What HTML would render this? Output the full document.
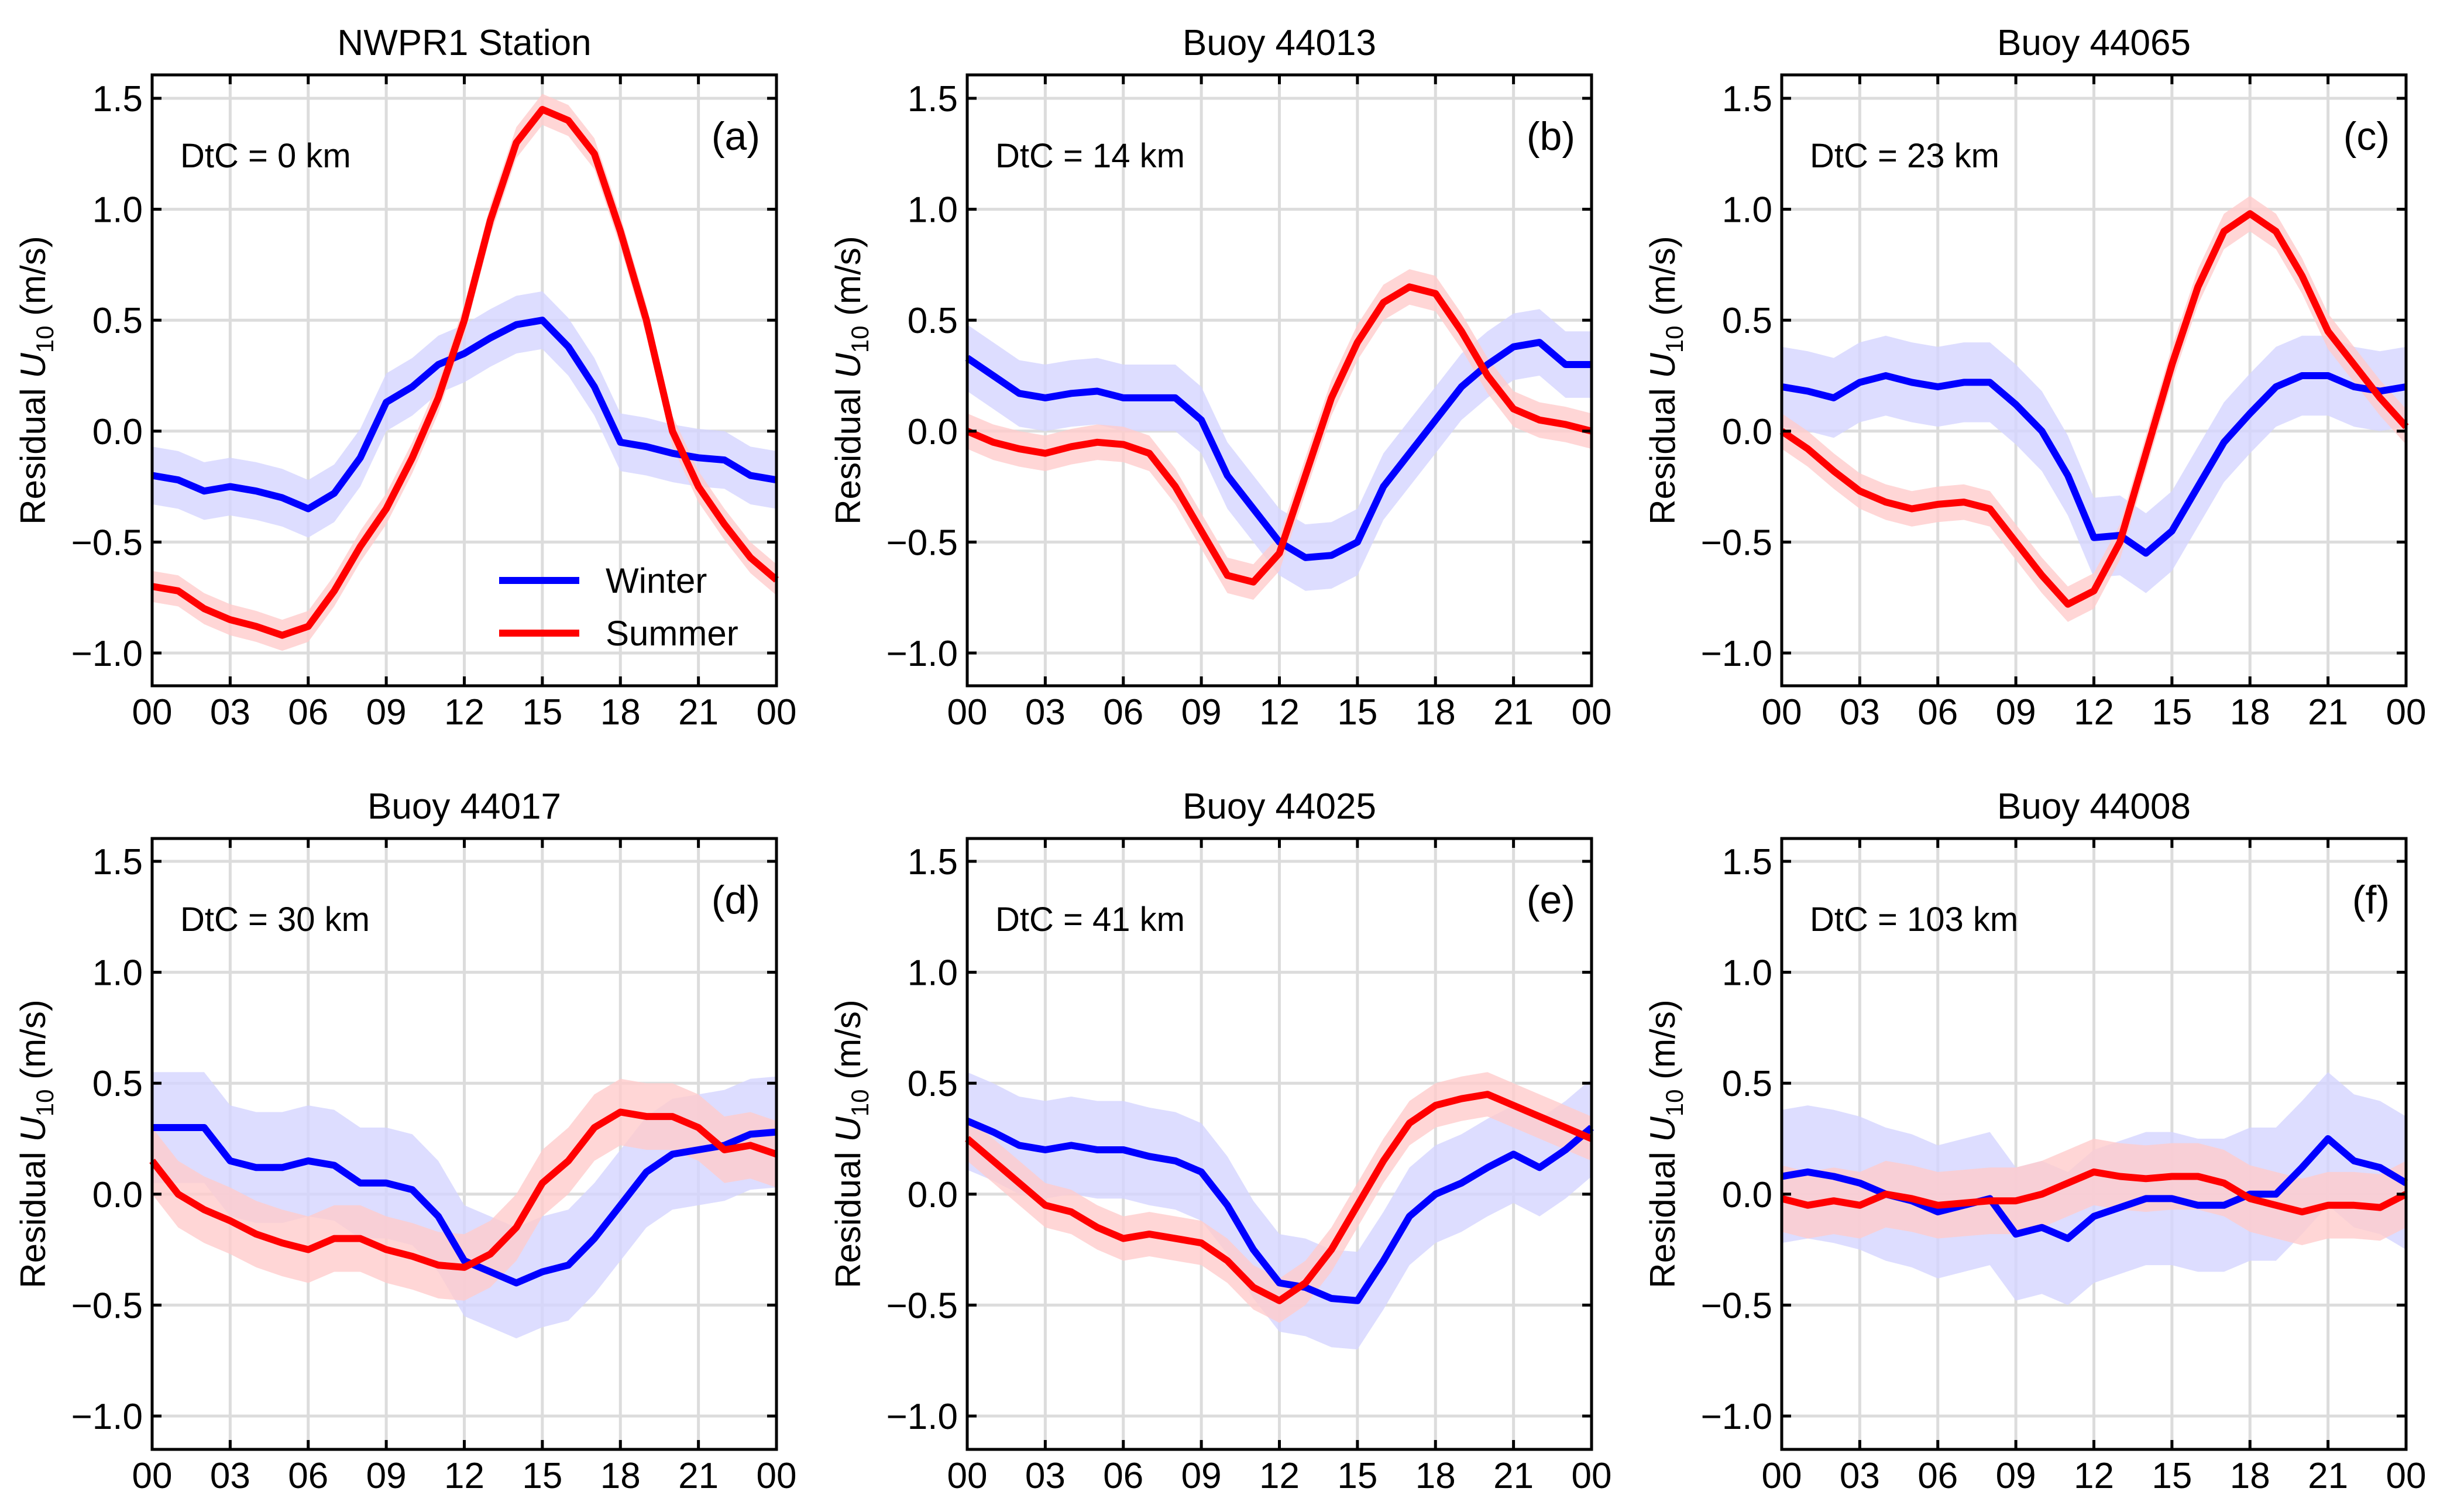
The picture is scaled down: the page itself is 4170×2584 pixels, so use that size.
<!DOCTYPE html>
<html><head><meta charset="utf-8"><style>
html,body{margin:0;padding:0;background:#fff;}
svg{display:block;font-family:"Liberation Sans",Arial,sans-serif;}
</style></head><body>
<svg id="fig" width="4170" height="2584" viewBox="0 0 4170 2584" xmlns="http://www.w3.org/2000/svg"></svg>
<script>
const hours = [0,1,2,3,4,5,6,7,8,9,10,11,12,13,14,15,16,17,18,19,20,21,22,23,24];
const xTickLabels = ["00","03","06","09","12","15","18","21","00"];
const yTickValues = [-1.0,-0.5,0.0,0.5,1.0,1.5];
const yTickLabels = ["\u22121.0","\u22120.5","0.0","0.5","1.0","1.5"];
const titles = ["NWPR1 Station","Buoy 44013","Buoy 44065","Buoy 44017","Buoy 44025","Buoy 44008"];
const dtcLabels = ["DtC = 0 km","DtC = 14 km","DtC = 23 km","DtC = 30 km","DtC = 41 km","DtC = 103 km"];
const panelLetters = ["(a)","(b)","(c)","(d)","(e)","(f)"];
const winterA = [-0.2,-0.22,-0.27,-0.25,-0.27,-0.3,-0.35,-0.28,-0.12,0.13,0.2,0.3,0.35,0.42,0.48,0.5,0.38,0.2,-0.05,-0.07,-0.1,-0.12,-0.13,-0.2,-0.22];
const summerA = [-0.7,-0.72,-0.8,-0.85,-0.88,-0.92,-0.88,-0.72,-0.52,-0.35,-0.12,0.15,0.5,0.95,1.3,1.45,1.4,1.25,0.9,0.5,0.0,-0.25,-0.42,-0.57,-0.67];
const winterB = [0.33,0.25,0.17,0.15,0.17,0.18,0.15,0.15,0.15,0.05,-0.2,-0.35,-0.5,-0.57,-0.56,-0.5,-0.25,-0.1,0.05,0.2,0.3,0.38,0.4,0.3,0.3];
const summerB = [0.0,-0.05,-0.08,-0.1,-0.07,-0.05,-0.06,-0.1,-0.25,-0.45,-0.65,-0.68,-0.55,-0.2,0.15,0.4,0.58,0.65,0.62,0.45,0.25,0.1,0.05,0.03,0.0];
const winterC = [0.2,0.18,0.15,0.22,0.25,0.22,0.2,0.22,0.22,0.12,0.0,-0.2,-0.48,-0.47,-0.55,-0.45,-0.25,-0.05,0.08,0.2,0.25,0.25,0.2,0.18,0.2];
const summerC = [0.0,-0.08,-0.18,-0.27,-0.32,-0.35,-0.33,-0.32,-0.35,-0.5,-0.65,-0.78,-0.72,-0.5,-0.1,0.3,0.65,0.9,0.98,0.9,0.7,0.45,0.3,0.15,0.02];
const winterD = [0.3,0.3,0.3,0.15,0.12,0.12,0.15,0.13,0.05,0.05,0.02,-0.1,-0.3,-0.35,-0.4,-0.35,-0.32,-0.2,-0.05,0.1,0.18,0.2,0.22,0.27,0.28];
const summerD = [0.15,0.0,-0.07,-0.12,-0.18,-0.22,-0.25,-0.2,-0.2,-0.25,-0.28,-0.32,-0.33,-0.27,-0.15,0.05,0.15,0.3,0.37,0.35,0.35,0.3,0.2,0.22,0.18];
const winterE = [0.33,0.28,0.22,0.2,0.22,0.2,0.2,0.17,0.15,0.1,-0.05,-0.25,-0.4,-0.42,-0.47,-0.48,-0.3,-0.1,0.0,0.05,0.12,0.18,0.12,0.2,0.3];
const summerE = [0.25,0.15,0.05,-0.05,-0.08,-0.15,-0.2,-0.18,-0.2,-0.22,-0.3,-0.42,-0.48,-0.4,-0.25,-0.05,0.15,0.32,0.4,0.43,0.45,0.4,0.35,0.3,0.25];
const winterF = [0.08,0.1,0.08,0.05,0.0,-0.03,-0.08,-0.05,-0.02,-0.18,-0.15,-0.2,-0.1,-0.06,-0.02,-0.02,-0.05,-0.05,0.0,0.0,0.12,0.25,0.15,0.12,0.05];
const summerF = [-0.02,-0.05,-0.03,-0.05,0.0,-0.02,-0.05,-0.04,-0.03,-0.03,0.0,0.05,0.1,0.08,0.07,0.08,0.08,0.05,-0.02,-0.05,-0.08,-0.05,-0.05,-0.06,0.0];
const winterSpread = [0.13,0.15,0.18,0.25,0.22,0.3];
const summerSpread = [0.07,0.08,0.08,0.15,0.1,0.15];
const winterSeries = [winterA,winterB,winterC,winterD,winterE,winterF];
const summerSeries = [summerA,summerB,summerC,summerD,summerE,summerF];

const NS = "http://www.w3.org/2000/svg";
const svg = document.getElementById('fig');
function mk(tag, attrs, parent){ const e=document.createElementNS(NS,tag); for(const k in attrs) e.setAttribute(k,attrs[k]); (parent||svg).appendChild(e); return e; }

const lefts=[260,1653,3045], W=1067;
const rows=[{top:128,bot:1172,y15:168,ym1:1116},{top:1433,bot:2477,y15:1472,ym1:2420}];
const panelNames=["panel-a","panel-b","panel-c","panel-d","panel-e","panel-f"];

for(let p=0;p<6;p++){
  const L=lefts[p%3], R=L+W, row=rows[Math.floor(p/3)];
  const xs = h => L + h/24*W;
  const ys = v => row.ym1 + (v+1.0)/2.5*(row.y15-row.ym1);
  const g = mk('g',{});
  
  
  for(let i=0;i<xTickLabels.length;i++){
    const x=xs(i*3);
    const gl=mk('line',{x1:x,x2:x,y1:row.top,y2:row.bot,stroke:'#dcdcdc','stroke-width':5},g);
     
  }
  for(const v of yTickValues){
    const y=ys(v);
    const gl=mk('line',{x1:L,x2:R,y1:y,y2:y,stroke:'#dcdcdc','stroke-width':5},g);
     
  }
  const sets=[[winterSeries[p],winterSpread[p],'#0000ff','#d4d4ff','winter'],[summerSeries[p],summerSpread[p],'#ff0000','#ffcccc','summer']];
  const bandG=mk('g',{},g);
  for(const [data,sp,col,fill,nm] of sets){
    let d='';
    hours.forEach((h,i)=>{d+=(i?'L':'M')+xs(h).toFixed(1)+','+ys(data[i]+sp).toFixed(1);});
    for(let i=hours.length-1;i>=0;i--) d+='L'+xs(hours[i]).toFixed(1)+','+ys(data[i]-sp).toFixed(1);
    const b=mk('path',{d:d+'Z',fill:fill,'fill-opacity':0.8},bandG);
     
  }
  for(const [data,sp,col,fill,nm] of sets){
    const pts=hours.map((h,i)=>xs(h).toFixed(1)+','+ys(data[i]).toFixed(1)).join(' ');
    const l=mk('polyline',{points:pts,fill:'none',stroke:col,'stroke-width':12,'stroke-linejoin':'round'},g);
     
  }
  for(let i=0;i<xTickLabels.length;i++){
    const x=xs(i*3);
    mk('line',{x1:x,x2:x,y1:row.bot,y2:row.bot-16,stroke:'#000','stroke-width':5},g);
    mk('line',{x1:x,x2:x,y1:row.top,y2:row.top+16,stroke:'#000','stroke-width':5},g);
    const t=mk('text',{x:x,y:row.bot+66,'font-size':62,'text-anchor':'middle'},g);
    t.textContent=xTickLabels[i];
     
  }
  yTickValues.forEach((v,i)=>{
    const y=ys(v);
    mk('line',{x1:L,x2:L+16,y1:y,y2:y,stroke:'#000','stroke-width':5},g);
    mk('line',{x1:R,x2:R-16,y1:y,y2:y,stroke:'#000','stroke-width':5},g);
    const t=mk('text',{x:L-16,y:y+22,'font-size':62,'text-anchor':'end'},g);
    t.textContent=yTickLabels[i];
     
  });
  const fr=mk('rect',{x:L,y:row.top,width:W,height:row.bot-row.top,fill:'none',stroke:'#000','stroke-width':5},g);
   
  const ti=mk('text',{x:(L+R)/2,y:row.top-34,'font-size':62,'text-anchor':'middle'},g);
  ti.textContent=titles[p];
   
  const dt=mk('text',{x:L+48,y:row.top+158,'font-size':58},g);
  dt.textContent=dtcLabels[p];
   
  const pl=mk('text',{x:R-28,y:row.top+128,'font-size':68,'text-anchor':'end'},g);
  pl.textContent=panelLetters[p];
   
  const yc=(row.top+row.bot)/2;
  const yl=mk('text',{x:0,y:0,'font-size':60,'text-anchor':'middle',transform:`translate(${L-183},${yc}) rotate(-90)`},g);
  yl.innerHTML='Residual <tspan font-style="italic">U</tspan><tspan font-size="42" dy="14">10</tspan><tspan dy="-14"> (m/s)</tspan>';
   
}
const lg=mk('g',{});
 
const legendItems=[['Winter','#0000ff',992],['Summer','#ff0000',1082]];
for(const [lab,col,y] of legendItems){
  const ln=mk('line',{x1:853,x2:990,y1:y,y2:y,stroke:col,'stroke-width':12},lg);
   
  const t=mk('text',{x:1035,y:y+21,'font-size':60},lg);
  t.textContent=lab;
   
}
</script>
</body></html>
